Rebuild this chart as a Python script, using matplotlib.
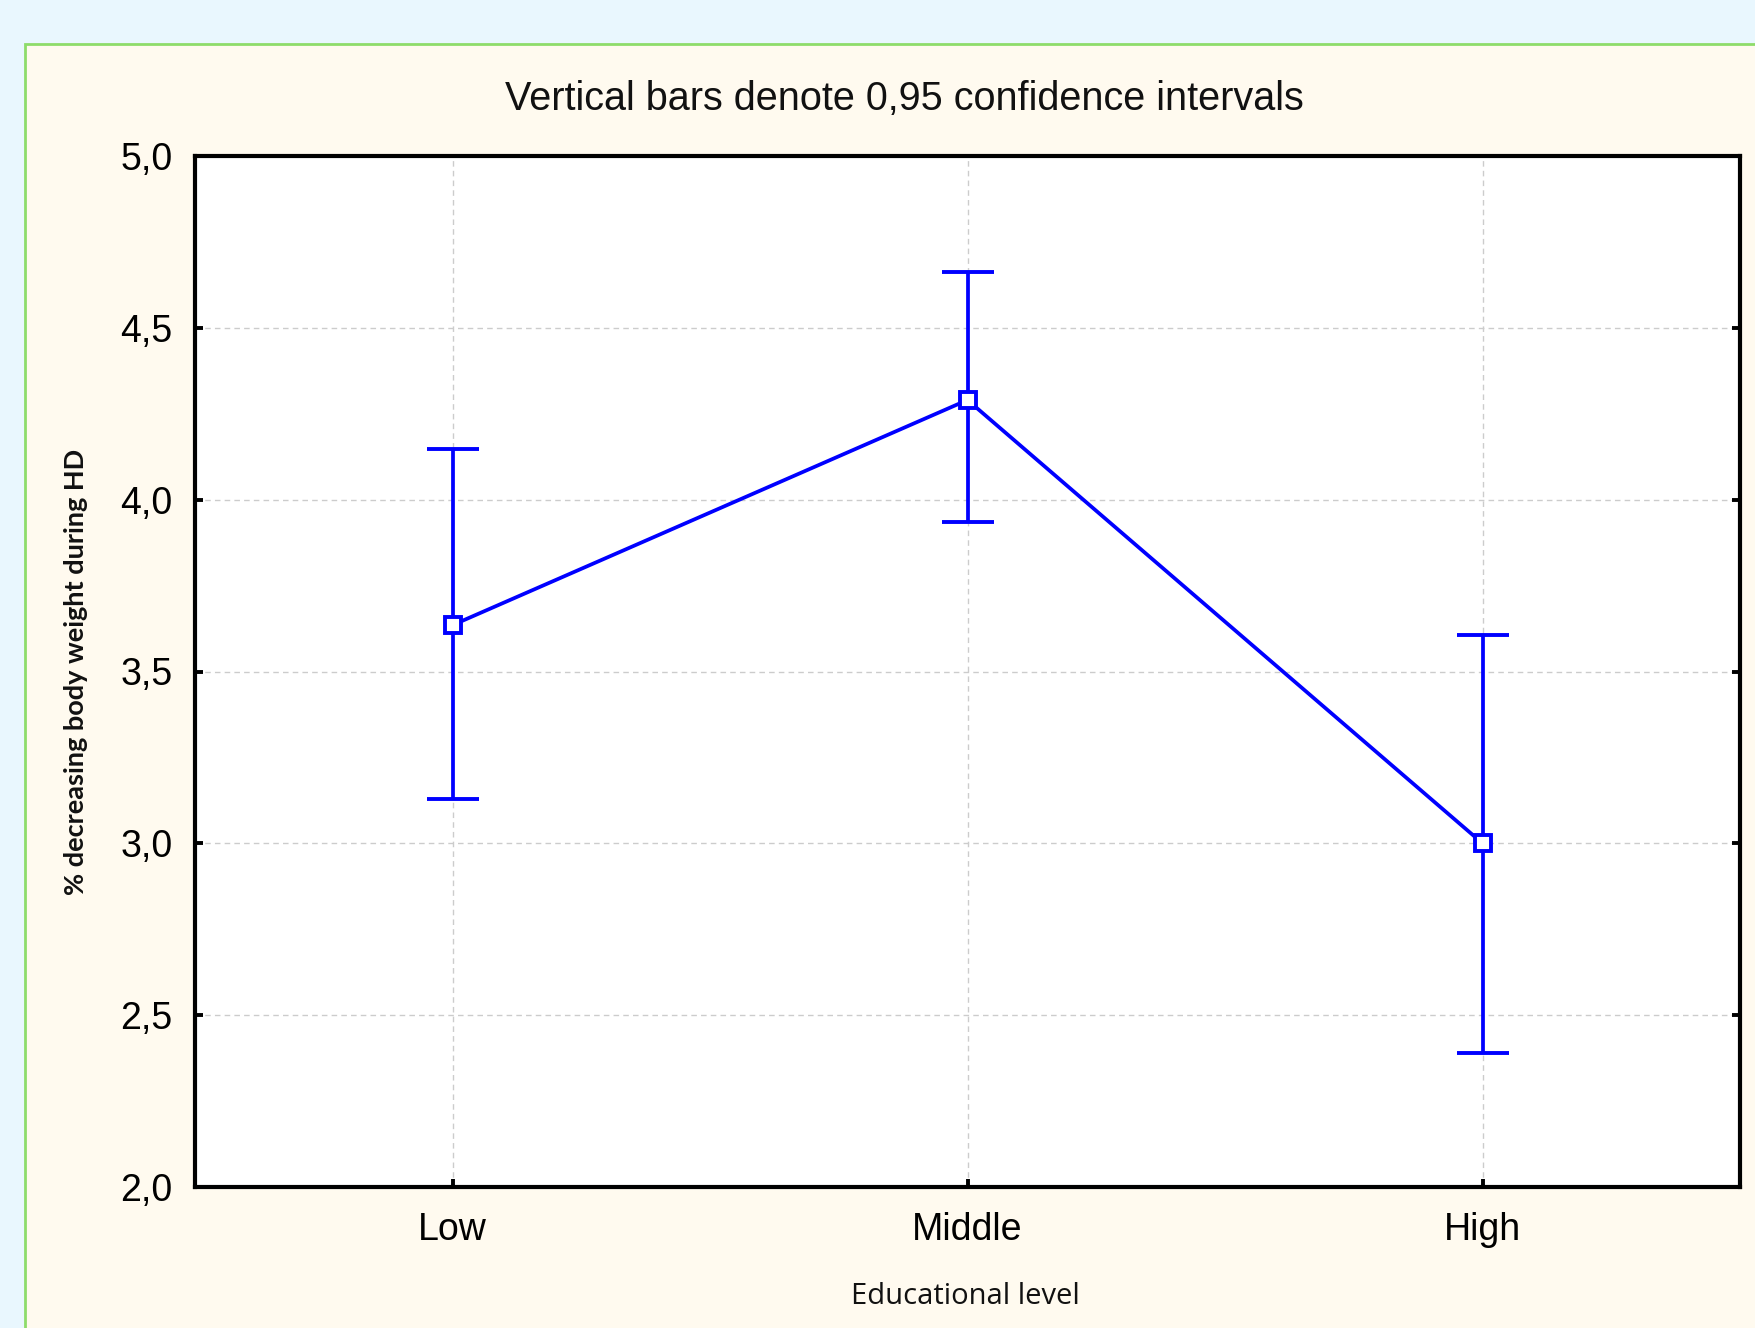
import matplotlib
matplotlib.use("Agg")
import matplotlib.pyplot as plt
from matplotlib.patches import Rectangle

categories = ["Low", "Middle", "High"]
means = [3.635, 4.29, 3.00]
ci_low = [3.128, 3.935, 2.39]
ci_high = [4.147, 4.662, 3.607]
yticks = [2.0, 2.5, 3.0, 3.5, 4.0, 4.5, 5.0]
ytick_labels = ["2,0", "2,5", "3,0", "3,5", "4,0", "4,5", "5,0"]

W, H = 1755, 1328
fig = plt.figure(figsize=(W / 100, H / 100), dpi=100)
fig.patch.set_facecolor("#E9F7FE")

panel = Rectangle((25 / W, -0.01), 1.0, (H - 44) / H + 0.01, transform=fig.transFigure,
                  facecolor="#FFFAEF", edgecolor="#8EDC6A", linewidth=2.0, zorder=-10)
fig.patches.append(panel)

ax = fig.add_axes([195 / W, 1 - 1187 / H, (1740 - 195) / W, (1187 - 156) / H])
ax.set_facecolor("white")

x = list(range(len(categories)))
yerr = [[m - lo for m, lo in zip(means, ci_low)], [hi - m for m, hi in zip(means, ci_high)]]
ax.errorbar(x, means, yerr=yerr, color="#0000FF", linewidth=2.7, elinewidth=2.7,
            capsize=19, capthick=2.7, marker="s", markersize=11.5, markerfacecolor="white",
            markeredgecolor="#0000FF", markeredgewidth=2.8, zorder=5)

ax.set_xlim(-0.5, 2.5)
ax.set_ylim(2.0, 5.0)
ax.set_xticks(x)
ax.set_xticklabels(categories, fontsize=27, family="Liberation Sans")
ax.set_yticks(yticks)
ax.set_yticklabels(ytick_labels, fontsize=27, family="Liberation Sans")
ax.tick_params(axis="both", direction="in", length=6, width=2.8, color="black",
               right=True, top=False)
ax.tick_params(axis="y", pad=16)
ax.tick_params(axis="x", pad=18)
ax.grid(True, color="#CCCCCC", linestyle=(0, (4, 3)), linewidth=1.0)
for s in ax.spines.values():
    s.set_linewidth(3.0)
    s.set_color("black")

fig.text(904 / W, 1 - 99 / H, "Vertical bars denote 0,95 confidence intervals",
         ha="center", va="center", fontsize=28.5, family="Liberation Sans", color="#111111")
fig.text(965 / W, 1 - 1296 / H, "Educational level", ha="center", va="center",
         fontsize=21, family="Open Sans", color="#111111")
fig.text(76 / W, 1 - 672 / H, "% decreasing body weight during HD", ha="center", va="center",
         rotation=90, fontsize=19.5, family="Lato", fontweight="bold", color="#111111")

fig.savefig("out.png", dpi=100, facecolor=fig.get_facecolor())
